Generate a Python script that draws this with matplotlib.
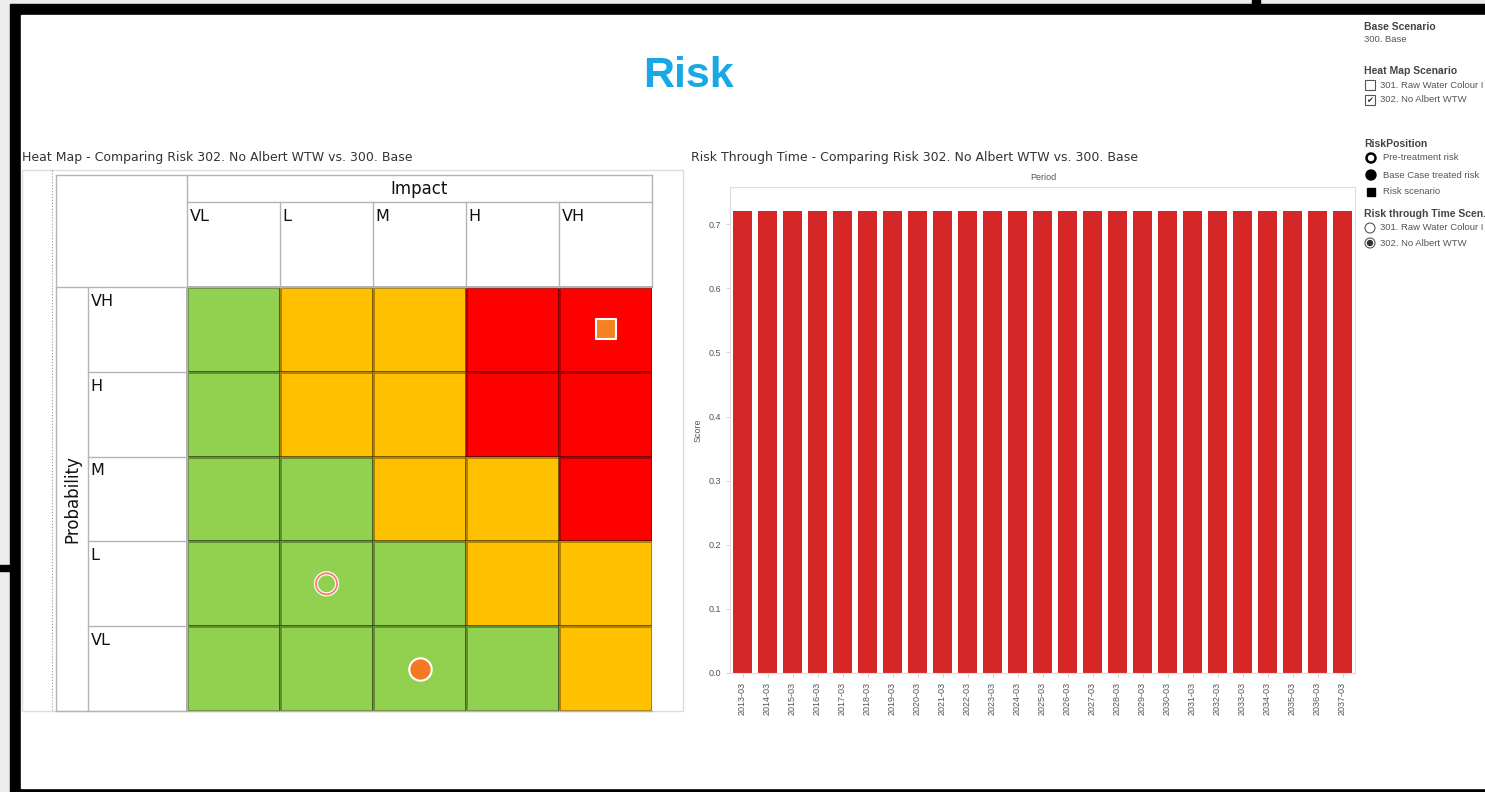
import matplotlib.pyplot as plt
import numpy as np
from matplotlib.colors import ListedColormap
from matplotlib.patches import Circle, Rectangle

# heat map data
impact_levels = ["VL", "L", "M", "H", "VH"]
probability_levels = ["VH", "H", "M", "L", "VL"]
# 1 = low (green), 2 = medium (amber), 3 = high (red); rows follow probability_levels
risk_grid = [
    [1, 2, 2, 3, 3],
    [1, 2, 2, 3, 3],
    [1, 1, 2, 2, 3],
    [1, 1, 1, 2, 2],
    [1, 1, 1, 1, 2],
]
pre_treatment = ("L", "L")  # (probability, impact)
base_case = ("VL", "M")
risk_scenario = ("VH", "VH")

# risk through time data
periods = [
    "2013-03", "2014-03", "2015-03", "2016-03", "2017-03", "2018-03", "2019-03",
    "2020-03", "2021-03", "2022-03", "2023-03", "2024-03", "2025-03", "2026-03",
    "2027-03", "2028-03", "2029-03", "2030-03", "2031-03", "2032-03", "2033-03",
    "2034-03", "2035-03", "2036-03", "2037-03",
]
scores = [
    0.72, 0.72, 0.72, 0.72, 0.72, 0.72, 0.72, 0.72, 0.72, 0.72, 0.72, 0.72, 0.72,
    0.72, 0.72, 0.72, 0.72, 0.72, 0.72, 0.72, 0.72, 0.72, 0.72, 0.72, 0.72,
]
score_ticks = [0.0, 0.1, 0.2, 0.3, 0.4, 0.5, 0.6, 0.7]

W, H = 1485, 792
SANS = "Liberation Sans"


def fig_box(x0, y0, x1, y1):
    return [x0 / W, 1 - y1 / H, (x1 - x0) / W, (y1 - y0) / H]


fig = plt.figure(figsize=(W / 100, H / 100), dpi=100, facecolor="#ececec")

# background canvas in pixel units
canvas = fig.add_axes([0, 0, 1, 1])
canvas.set_xlim(0, W)
canvas.set_ylim(H, 0)
canvas.axis("off")
canvas.add_patch(Rectangle((10, 4), W - 10, H - 4, color="black"))
canvas.add_patch(Rectangle((1252, 0), 8, 5, color="black"))
canvas.add_patch(Rectangle((0, 565), 10, 6, color="black"))
canvas.add_patch(Rectangle((21, 15), W - 21, 773, color="white"))

canvas.text(688, 76, "Risk", ha="center", va="center", fontsize=31,
            fontweight="bold", color="#18a8e6", family=SANS)
canvas.text(22, 157, "Heat Map - Comparing Risk 302. No Albert WTW vs. 300. Base",
            va="center", fontsize=9, color="#333333")
canvas.text(691, 157, "Risk Through Time - Comparing Risk 302. No Albert WTW vs. 300. Base",
            va="center", fontsize=9, color="#333333")

canvas.add_patch(Rectangle((22, 170), 661, 541, fill=False, ec="#dcdcdc", lw=1))
canvas.plot([52, 52], [170, 711], ls=":", color="#9a9a9a", lw=0.8)

canvas.text(1043, 178, "Period", ha="center", va="center", fontsize=6.5,
            color="#555555", family=SANS)
canvas.text(698, 430, "Score", ha="center", va="center", rotation=90,
            fontsize=6.5, color="#555555", family=SANS)

# right-hand filter / legend panel
title_kw = dict(fontsize=7.5, fontweight="bold", color="#444444", family=SANS, va="center")
item_kw = dict(fontsize=6.8, color="#555555", family=SANS, va="center")
canvas.text(1364, 27, "Base Scenario", **title_kw)
canvas.text(1364, 39, "300. Base", **item_kw)
canvas.text(1364, 71, "Heat Map Scenario", **title_kw)
canvas.add_patch(Rectangle((1365, 80), 10, 10, fill=False, ec="#555555", lw=0.8))
canvas.text(1380, 85, "301. Raw Water Colour I", **item_kw)
canvas.add_patch(Rectangle((1365, 95), 10, 10, fill=False, ec="#555555", lw=0.8))
canvas.text(1370, 100.5, "\u2714", ha="center", va="center", fontsize=6, color="#333333")
canvas.text(1380, 100, "302. No Albert WTW", **item_kw)
canvas.text(1364, 144, "RiskPosition", **title_kw)
canvas.add_patch(Circle((1371, 158), 4.5, fill=False, ec="black", lw=1.8))
canvas.text(1383, 158, "Pre-treatment risk", **item_kw)
canvas.add_patch(Circle((1371, 175), 5, color="black"))
canvas.text(1383, 175, "Base Case treated risk", **item_kw)
canvas.add_patch(Rectangle((1367, 188), 8, 8, color="black"))
canvas.text(1383, 192, "Risk scenario", **item_kw)
canvas.text(1364, 214, "Risk through Time Scen.", **title_kw)
canvas.add_patch(Circle((1370, 228), 5, fill=False, ec="#555555", lw=0.8))
canvas.text(1380, 228, "301. Raw Water Colour I", **item_kw)
canvas.add_patch(Circle((1370, 243), 5, fill=False, ec="#555555", lw=0.8))
canvas.add_patch(Circle((1370, 243), 2.5, color="#333333"))
canvas.text(1380, 243, "302. No Albert WTW", **item_kw)

# heat map table, in cell units
hm = fig.add_axes(fig_box(56, 175, 652, 711))
x_left, x_split, y_top = -1.409, -1.065, -1.321
hm.set_xlim(x_left, 5)
hm.set_ylim(5, y_top)
hm.axis("off")

cmap = ListedColormap(["#92d050", "#ffc000", "#ff0000"])
hm.pcolormesh(np.arange(6), np.arange(6), np.array(risk_grid), cmap=cmap,
              vmin=0.5, vmax=3.5, edgecolors="#00000050", linewidth=0.9)

line_kw = dict(color="#b4b4b4", lw=1, clip_on=False)
hm.plot([x_left, x_left], [y_top, 5], **line_kw)
hm.plot([x_split, x_split], [0, 5], **line_kw)
hm.plot([0, 0], [y_top, 5], **line_kw)
hm.plot([5, 5], [y_top, 0], **line_kw)
for i in range(1, 5):
    hm.plot([i, i], [-1, 0], **line_kw)
    hm.plot([x_split, 0], [i, i], **line_kw)
hm.plot([x_left, 5], [y_top, y_top], **line_kw)
hm.plot([0, 5], [-1, -1], **line_kw)
hm.plot([x_left, 5], [0, 0], **line_kw)
hm.plot([x_left, 5], [5, 5], **line_kw)

hm.text(2.5, -1.16, "Impact", ha="center", va="center", fontsize=12, color="#111111")
for i, lab in enumerate(impact_levels):
    hm.text(i + 0.03, -0.92, lab, ha="left", va="top", fontsize=11.5, color="#111111")
for i, lab in enumerate(probability_levels):
    hm.text(x_split + 0.03, i + 0.08, lab, ha="left", va="top", fontsize=11.5, color="#111111")
hm.text((x_left + x_split) / 2, 2.5, "Probability", ha="center", va="center",
        rotation=90, fontsize=12, color="#111111")


def cell(pos):
    prob, imp = pos
    return impact_levels.index(imp) + 0.5, probability_levels.index(prob) + 0.5


sx, sy = cell(risk_scenario)
hm.scatter([sx], [sy], marker="s", s=200, color="#f58220", edgecolor="white", linewidth=1.5, zorder=5)
bx_, by_ = cell(base_case)
hm.scatter([bx_], [by_], marker="o", s=260, color="#f47920", edgecolor="white", linewidth=1.5, zorder=5)
px, py = cell(pre_treatment)
hm.scatter([px], [py], marker="o", s=230, facecolor="none", edgecolor="white", linewidth=3, zorder=5)
hm.scatter([px], [py], marker="o", s=230, facecolor="none", edgecolor="#f4806a", linewidth=1.3, zorder=6)

# risk through time bars
bx = fig.add_axes(fig_box(730, 187, 1355, 673))
x = np.arange(len(periods))
bx.bar(x, scores, width=0.76, color="#d62728", zorder=2)
bx.set_xlim(-0.5, len(periods) - 0.5)
bx.set_ylim(0, 0.758)
bx.set_yticks(score_ticks)
bx.set_yticklabels([f"{v:.1f}" for v in score_ticks], family=SANS)
bx.set_xticks(x)
bx.set_xticklabels(periods, rotation=90, family=SANS)
bx.tick_params(labelsize=6.5, labelcolor="#555555", color="#cccccc", length=3, width=0.6)
for spine in bx.spines.values():
    spine.set_color("#dddddd")
    spine.set_linewidth(0.8)

fig.savefig("out.png", dpi=100, facecolor=fig.get_facecolor())
